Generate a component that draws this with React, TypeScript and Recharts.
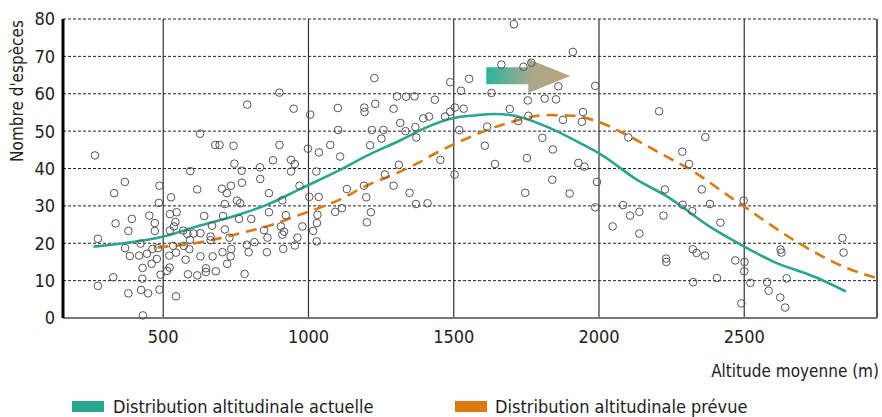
import {
  ComposedChart,
  Scatter,
  Line,
  XAxis,
  YAxis,
  CartesianGrid,
  ReferenceLine,
  ReferenceArea,
} from 'recharts';

// sites: mean altitude (m) and number of species
const siteAltitude = [
  265, 593, 368, 331, 487, 617, 527, 485, 392, 336, 452, 471, 523, 546, 542, 537, 523, 471, 380, 569,
  583, 604, 628, 275, 422, 369, 385, 417, 444, 463, 482, 534, 571, 592, 590, 521, 544, 478, 460, 429,
  577, 628, 522, 513, 491, 428, 328, 585, 617, 275, 380, 424, 448, 487, 544, 430,
  627, 679, 694, 742, 789, 900, 949, 900, 702, 719, 733, 745, 770, 771, 833, 834, 864, 878, 940, 953,
  940, 969, 1006, 1101, 998, 1036, 1075, 1102, 1109, 1027, 1003, 1035, 910, 754, 765, 712, 641, 706, 761, 803,
  864, 922, 1031, 1092, 1029, 979, 905, 916, 910, 1016, 847, 712, 668, 663, 663, 728, 859, 962, 788, 814,
  953, 913, 1028, 734, 704, 794, 857, 670, 732, 720, 647, 647, 681, 780,
  1227, 1488, 1553, 1525, 1305, 1336, 1365, 1435, 1192, 1193, 1230, 1293, 1504, 1534, 1488, 1470, 1415, 1395, 1316, 1218,
  1258, 1334, 1368, 1371, 1251, 1519, 1212, 1311, 1454, 1263, 1503, 1293, 1191, 1132, 1199, 1348, 1370, 1410, 1115, 1215,
  1746, 1899, 1839, 1201,
  1707, 1910, 1664, 1740, 1767, 1860, 1987, 1630, 1755, 1813, 1852, 1693, 1757, 1722, 1876, 1945, 1941, 1615, 1607, 1805,
  1841, 1752, 1642, 1929, 1950, 1993, 1987,
  2207, 2101, 2366, 2287, 2310, 2227, 2354, 2083, 2288, 2382, 2498, 2107, 2139, 2222, 2321, 2047, 2139, 2418, 2231, 2232,
  2323, 2336, 2365, 2469, 2501, 2500, 2625, 2628, 2838, 2842, 2324, 2406, 2521, 2579, 2584, 2646, 2624, 2641, 2490,
];

const siteSpecies = [
  43.5, 39.3, 36.4, 33.4, 35.4, 34.4, 32.3, 30.8, 26.5, 25.3, 27.4, 25.4, 27.8, 28.3, 25.7, 24.5, 23.4, 23.3, 23.3, 23.4,
  22.5, 22.6, 22.7, 21.2, 19.9, 18.7, 16.6, 16.7, 17.2, 18.5, 18.7, 19.3, 19.3, 20.9, 18.4, 16.7, 17.5, 15.8, 14.5, 13.4,
  15.6, 16.5, 13.5, 12.6, 11.6, 10.5, 10.9, 11.7, 11.4, 8.6, 6.6, 7.5, 6.6, 7.6, 5.8, 0.7,
  49.3, 46.3, 46.3, 46.1, 57.1, 60.3, 56.0, 46.3, 34.6, 33.4, 35.4, 41.3, 39.4, 36.2, 40.3, 37.2, 33.4, 42.2, 42.3, 41.2,
  39.2, 35.4, 54.4, 56.2, 45.3, 44.3, 46.3, 50.3, 43.2, 39.2, 32.4, 32.4, 31.5, 31.4, 30.7, 30.5, 27.3, 27.3, 26.5, 26.5,
  28.3, 27.5, 27.6, 28.4, 25.4, 24.5, 24.5, 23.1, 22.3, 23.3, 23.5, 23.7, 24.7, 21.8, 20.8, 21.5, 21.5, 21.5, 19.6, 20.3,
  19.4, 18.5, 20.5, 18.5, 17.6, 17.6, 17.6, 16.5, 16.5, 14.5, 13.3, 12.3, 12.5, 11.8,
  64.2, 63.1, 64.0, 60.8, 59.3, 59.2, 59.3, 58.4, 56.3, 55.1, 57.3, 56.0, 56.3, 56.0, 55.2, 53.9, 53.9, 53.4, 52.2, 50.3,
  50.3, 50.0, 51.1, 48.3, 48.0, 50.3, 46.2, 41.0, 42.3, 38.4, 38.4, 35.4, 35.4, 34.5, 32.3, 33.5, 30.5, 30.7, 29.4, 28.3,
  33.5, 33.3, 37.0, 25.6,
  78.6, 71.2, 67.8, 67.2, 68.3, 62.0, 62.1, 60.2, 58.2, 58.7, 58.5, 55.9, 54.1, 52.7, 53.0, 55.1, 52.5, 51.2, 46.1, 48.2,
  45.1, 42.8, 41.2, 41.5, 40.5, 36.4, 29.6,
  55.3, 48.3, 48.4, 44.5, 41.2, 34.4, 34.4, 30.2, 30.3, 30.5, 31.4, 27.4, 28.4, 27.4, 28.6, 24.5, 22.6, 25.5, 15.9, 15.0,
  18.4, 17.4, 16.7, 15.4, 15.0, 12.5, 18.3, 17.5, 21.4, 17.5, 9.6, 10.7, 9.4, 9.6, 7.3, 10.6, 5.5, 2.8, 3.9,
];

// current altitudinal distribution (fitted curve)
const currentAlt = [260, 500, 630, 745, 860, 970, 1100, 1200, 1320, 1400, 1500, 1570, 1640, 1710, 1820, 1935, 2010, 2130, 2235, 2380, 2500, 2600, 2740, 2850];
const currentSpecies = [19.1, 21.8, 24.8, 27.3, 30.4, 34.5, 39.3, 43.4, 47.7, 50.8, 53.5, 54.2, 54.6, 54.1, 51.2, 46.8, 43.6, 37.0, 32.5, 24.5, 19.1, 15.1, 11.1, 7.1];

// predicted altitudinal distribution
const futureAlt = [480, 590, 670, 775, 870, 955, 1035, 1105, 1205, 1290, 1375, 1455, 1535, 1615, 1705, 1820, 1910, 1980, 2095, 2210, 2325, 2440, 2500, 2670, 2840, 2955];
const futureSpecies = [18.9, 19.8, 20.9, 22.9, 24.8, 27.2, 29.4, 31.6, 35.6, 38.3, 41.4, 44.8, 47.7, 50.3, 52.6, 54.3, 54.1, 53.0, 49.0, 44.1, 39.2, 33.0, 29.8, 20.9, 13.8, 10.7];

const xTicks = [500, 1000, 1500, 2000, 2500];
const yTicks = [0, 10, 20, 30, 40, 50, 60, 70, 80];

const TEAL = '#28a690';
const ORANGE = '#d97b10';
const FONT = "'Liberation Sans Narrow', 'DejaVu Sans Condensed', 'Roboto', sans-serif";

const sites = siteAltitude.map((x, i) => ({ x, y: siteSpecies[i] }));
const current = currentAlt.map((x, i) => ({ x, y: currentSpecies[i] }));
const future = futureAlt.map((x, i) => ({ x, y: futureSpecies[i] }));

const OpenCircle = (props: any) => (
  <circle cx={props.cx} cy={props.cy} r={3.8} fill="none" stroke="#555" strokeWidth={1} />
);

const Arrow = (props: any) => {
  const { x, y, width, height } = props;
  const headX = x + width * 0.15 + width * 0.0;
  const neck = x + width * 0.5;
  const shaftTop = y + height * 0.24;
  const shaftBottom = y + height * 0.74;
  return (
    <path
      d={`M${x},${shaftTop} L${neck},${shaftTop} L${neck},${y} L${x + width},${y + height / 2} L${neck},${y + height} L${neck},${shaftBottom} L${x},${shaftBottom} Z`}
      fill="url(#shiftGradient)"
      data-h={headX}
    />
  );
};

export default function App() {
  return (
    <div style={{ position: 'absolute', left: 0, top: 0, width: 882, height: 417, fontFamily: FONT }}>
      <ComposedChart width={882} height={417} margin={{ top: 19, right: 5, bottom: 69, left: 0 }}>
        <defs>
          <linearGradient id="shiftGradient" x1="0" y1="0" x2="1" y2="0">
            <stop offset="0%" stopColor="#2ab4a0" />
            <stop offset="55%" stopColor="#a9a98a" />
            <stop offset="100%" stopColor="#bca27c" />
          </linearGradient>
        </defs>
        <CartesianGrid vertical={false} stroke="#222" strokeDasharray="3 2" />
        <XAxis
          dataKey="x"
          type="number"
          domain={[155, 2957]}
          ticks={xTicks}
          allowDataOverflow
          height={30}
          tickLine={false}
          tickSize={0}
          tickMargin={12}
          axisLine={{ stroke: '#777', strokeWidth: 2 }}
          tick={{ fill: '#222', fontSize: 18, fontFamily: FONT }}
          label={{
            content: () => (
              <text x={879} y={377} textAnchor="end" fill="#222" fontSize={17} fontFamily={FONT}>
                Altitude moyenne (m)
              </text>
            ),
          }}
        />
        <YAxis
          dataKey="y"
          type="number"
          domain={[0, 80]}
          ticks={yTicks}
          width={63}
          tickLine={false}
          tickSize={0}
          tickMargin={8}
          axisLine={{ stroke: '#000', strokeWidth: 3 }}
          tick={{ fill: '#222', fontSize: 18, fontFamily: FONT }}
          label={{
            content: () => (
              <text x={23} y={91} transform="rotate(-90 23 91)" textAnchor="middle" fill="#222" fontSize={17} fontFamily={FONT}>
                Nombre d'espèces
              </text>
            ),
          }}
        />
        {xTicks.map((t) => (
          <ReferenceLine key={t} x={t} stroke="#333" strokeWidth={1.2} />
        ))}
        <ReferenceLine x={2957} stroke="#222" strokeWidth={1.5} />
        <Scatter data={sites} shape={OpenCircle} isAnimationActive={false} />
        <Line
          data={current}
          dataKey="y"
          type="monotone"
          stroke={TEAL}
          strokeWidth={2.6}
          dot={false}
          activeDot={false}
          isAnimationActive={false}
        />
        <Line
          data={future}
          dataKey="y"
          type="monotone"
          stroke={ORANGE}
          strokeWidth={2.6}
          strokeDasharray="11 7"
          dot={false}
          activeDot={false}
          isAnimationActive={false}
        />
        <ReferenceArea x1={1612} x2={1901} y1={60.2} y2={69.3} shape={Arrow} />
      </ComposedChart>
      <div
        style={{
          position: 'absolute',
          left: 72,
          top: 396,
          display: 'flex',
          alignItems: 'center',
          fontSize: 18,
          color: '#222',
          whiteSpace: 'nowrap',
        }}
      >
        <span style={{ display: 'inline-block', width: 32, height: 11, background: TEAL, marginRight: 9 }} />
        <span style={{ width: 342 }}>Distribution altitudinale actuelle</span>
        <span style={{ display: 'inline-block', width: 32, height: 11, background: ORANGE, marginRight: 8 }} />
        <span>Distribution altitudinale prévue</span>
      </div>
    </div>
  );
}
